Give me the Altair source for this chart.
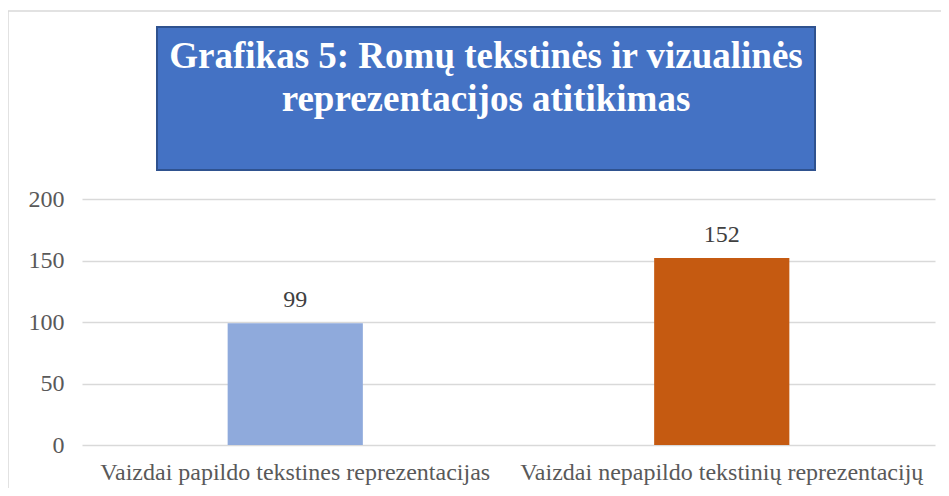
import altair as alt
import pandas as pd

categories = ["Vaizdai papildo tekstines reprezentacijas", "Vaizdai nepapildo tekstinių reprezentacijų"]
values = [99, 152]
colors = ["#8FAADC", "#C55A11"]
title_lines = ["Grafikas 5: Romų tekstinės ir vizualinės", "reprezentacijos atitikimas"]
y_ticks = [0, 50, 100, 150, 200]

df = pd.DataFrame({"cat": categories, "val": values, "color": colors})

FONT = "Liberation Serif"
W, H = 853, 246

xenc = alt.X("cat:N", sort=categories, title=None,
             scale=alt.Scale(paddingInner=0.683, paddingOuter=0.3415),
             axis=alt.Axis(labelAngle=0, labelFont=FONT, labelFontSize=24, labelColor="#595959",
                           labelPadding=15, ticks=False, domain=False, grid=False, labelLimit=500))
yenc = alt.Y("val:Q", title=None,
             scale=alt.Scale(domain=[0, 200]),
             axis=alt.Axis(values=y_ticks, labelFont=FONT, labelFontSize=24, labelColor="#595959",
                           labelPadding=18, ticks=False, domain=False, gridColor="#D9D9D9",
                           gridWidth=1.5))

bars = alt.Chart(df).mark_bar().encode(x=xenc, y=yenc, color=alt.Color("color:N", scale=None))
labels = alt.Chart(df).mark_text(font=FONT, fontSize=24, color="#404040", baseline="alphabetic", dy=-16).encode(
    x=alt.X("cat:N", sort=categories), y="val:Q", text="val:Q")

border = alt.Chart(df.head(1)).mark_rect(fill="transparent", stroke="#D9D9D9", strokeWidth=1.5).encode(
    x=alt.value(-74), x2=alt.value(W + 40), y=alt.value(-188), y2=alt.value(H + 80))

box = alt.Chart(df.head(1)).mark_rect(fill="#4472C4", stroke="#2F528F", strokeWidth=2).encode(
    x=alt.value(75), x2=alt.value(733), y=alt.value(-172), y2=alt.value(-29))

t1 = alt.Chart(df.head(1)).mark_text(font=FONT, fontSize=37, fontWeight="bold", color="white",
                                     baseline="alphabetic", align="center").encode(
    x=alt.value(404), y=alt.value(-131), text=alt.value(title_lines[0]))
t2 = alt.Chart(df.head(1)).mark_text(font=FONT, fontSize=37, fontWeight="bold", color="white",
                                     baseline="alphabetic", align="center").encode(
    x=alt.value(404), y=alt.value(-88), text=alt.value(title_lines[1]))

chart = alt.layer(border, box, t1, t2, bars, labels).properties(
    width=W, height=H,
    background="white",
    autosize=alt.AutoSizeParams(type="none"),
    padding={"left": 74, "top": 191, "right": 6, "bottom": 43},
).configure_view(strokeWidth=0)

chart.save("out.html", embed_options={"renderer": "svg", "actions": False})
